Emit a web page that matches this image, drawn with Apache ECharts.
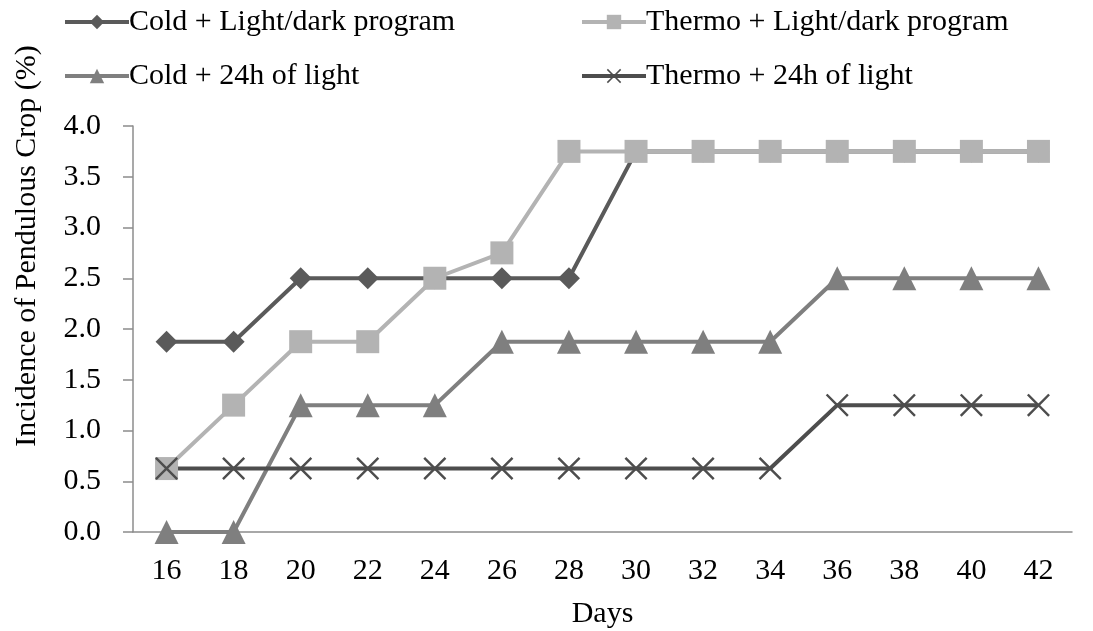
<!DOCTYPE html>
<html><head><meta charset="utf-8">
<script src="https://cdn.jsdelivr.net/npm/echarts@6/dist/echarts.min.js"></script>
<style>html,body{margin:0;padding:0;background:#fff}#c{width:1093px;height:631px}</style>
</head><body><div id="c"></div>
<script>
const days = ['16','18','20','22','24','26','28','30','32','34','36','38','40','42'];
const coldLD = [1.875,1.875,2.5,2.5,2.5,2.5,2.5,3.75,3.75,3.75,3.75,3.75,3.75,3.75];
const thermoLD = [0.625,1.25,1.875,1.875,2.5,2.75,3.75,3.75,3.75,3.75,3.75,3.75,3.75,3.75];
const cold24 = [0,0,1.25,1.25,1.25,1.875,1.875,1.875,1.875,1.875,2.5,2.5,2.5,2.5];
const thermo24 = [0.625,0.625,0.625,0.625,0.625,0.625,0.625,0.625,0.625,0.625,1.25,1.25,1.25,1.25];
const names = ['Cold + Light/dark program','Thermo + Light/dark program','Cold + 24h of light','Thermo + 24h of light'];

const F = 'Liberation Serif, Times New Roman, serif';
const xPath = 'path://M0,1.5L1.5,0L10,8.5L18.5,0L20,1.5L11.5,10L20,18.5L18.5,20L10,11.5L1.5,20L0,18.5L8.5,10Z';
const chart = echarts.init(document.getElementById('c'));
function lg(name, left, top){
  return {data:[name], left:left, top:top, itemWidth:64, itemHeight:18, itemGap:0, padding:0,
    lineStyle:{width:4},
    textStyle:{fontFamily:F, fontSize:30, color:'#000', padding:[0,0,0,-5]}};
}
function ser(name, data, color, symbol, size){
  return {name:name, type:'line', data:data, symbol:symbol, symbolSize:size,
    lineStyle:{color:color, width:4}, itemStyle:{color:color}, animation:false};
}
chart.setOption({
  animation:false,
  legend:[lg(names[0],63,7), lg(names[1],580,7), lg(names[2],63,61), lg(names[3],580,61)],
  grid:{left:133, right:21, top:126, bottom:99, containLabel:false, outerBoundsMode:'none'},
  xAxis:{type:'category', data:days, boundaryGap:true,
    name:'Days', nameLocation:'middle', nameGap:67,
    nameTextStyle:{fontFamily:F, fontSize:30, color:'#000'},
    axisLine:{lineStyle:{color:'#8c8c8c', width:1.5}},
    axisTick:{inside:false, length:10, lineStyle:{color:'#8c8c8c', width:1.5}},
    axisLabel:{fontFamily:F, fontSize:30, color:'#000', margin:24},
    splitLine:{show:false}},
  yAxis:{type:'value', min:0, max:4, interval:0.5,
    name:'Incidence of Pendulous Crop (%)', nameLocation:'middle', nameGap:91,
    nameTextStyle:{fontFamily:F, fontSize:30, color:'#000', padding:[0,0,0,166]},
    axisLine:{show:true, lineStyle:{color:'#8c8c8c', width:1.5}},
    axisTick:{show:true, length:10, lineStyle:{color:'#8c8c8c', width:1.5}},
    axisLabel:{fontFamily:F, fontSize:30, color:'#000', margin:32, formatter:v=>v.toFixed(1)},
    splitLine:{show:false}},
  series:[
    ser(names[0], coldLD, '#5a5a5a', 'diamond', 22),
    ser(names[1], thermoLD, '#b3b3b3', 'rect', 23),
    ser(names[2], cold24, '#7f7f7f', 'triangle', 24),
    ser(names[3], thermo24, '#4d4d4d', xPath, 23)
  ]
});
</script></body></html>
